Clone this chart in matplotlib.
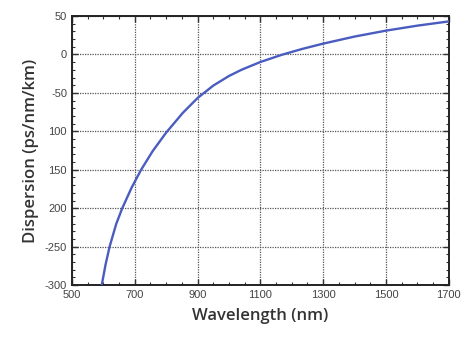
import matplotlib
matplotlib.use("Agg")
import matplotlib.pyplot as plt
from matplotlib.ticker import FixedLocator, FixedFormatter, MultipleLocator

# fibre dispersion curve (wavelength in nm, dispersion in ps/nm/km)
wavelength = [595, 607, 620, 641, 660, 690, 720, 757, 800, 853, 900, 950,
              1000, 1040, 1100, 1170, 1235, 1300, 1400, 1500, 1600, 1700]
dispersion = [-300, -273.6, -250, -220.5, -200.3, -173.3, -150.2, -125.8, -101.7,
              -76, -56.7, -40.5, -28, -19.9, -9.8, -0.2, 7.4, 14.1, 23.3, 31,
              37.5, 43]

x_ticks = [500, 700, 900, 1100, 1300, 1500, 1700]
y_ticks = [50, 0, -50, -100, -150, -200, -250, -300]
y_tick_labels = ["50", "0", "-50", "100", "150", "200", "-250", "-300"]

fig = plt.figure(figsize=(4.70, 3.41), dpi=100)
ax = fig.add_axes([0.153, 0.164, 0.802, 0.789])

ax.plot(wavelength, dispersion, color="#4a5cc0", lw=1.7, zorder=3)

ax.set_xlim(500, 1700)
ax.set_ylim(-300, 50)
ax.xaxis.set_major_locator(FixedLocator(x_ticks))
ax.xaxis.set_minor_locator(MultipleLocator(50))
ax.yaxis.set_major_locator(FixedLocator(y_ticks))
ax.yaxis.set_major_formatter(FixedFormatter(y_tick_labels))
ax.yaxis.set_minor_locator(MultipleLocator(10))

ax.grid(True, which="major", color="#555555", linestyle=(0, (1, 1)), lw=0.9)
ax.tick_params(which="both", direction="in", top=True, right=True,
               color="#333333", labelsize=8, labelcolor="#444444")
ax.tick_params(which="major", length=4, width=1)
ax.tick_params(which="minor", length=2.5, width=0.8)
for lbl in ax.get_xticklabels() + ax.get_yticklabels():
    lbl.set_family("Liberation Sans")
for s in ax.spines.values():
    s.set_linewidth(1.4)
    s.set_color("#222222")

ax.set_xlabel("Wavelength (nm)", fontsize=12, family="Open Sans",
              fontweight="semibold", color="#333333", labelpad=6)
ax.set_ylabel("Dispersion (ps/nm/km)", fontsize=12, family="Open Sans",
              fontweight="semibold", color="#333333", labelpad=4)

fig.savefig("out.png", dpi=100, facecolor="white")
